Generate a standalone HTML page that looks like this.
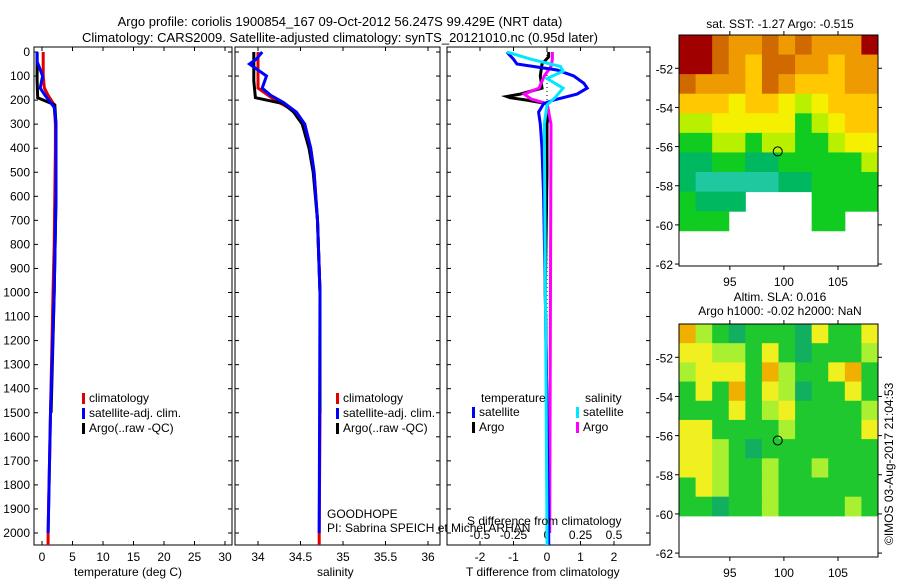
<!DOCTYPE html>
<html><head><meta charset="utf-8"><style>
body{margin:0;background:#fff;}
svg{display:block;font-family:"Liberation Sans",sans-serif;font-size:12px;}
</style></head><body>
<svg id="fig" width="900" height="580" viewBox="0 0 900 580">
<text x="340" y="26" text-anchor="middle" font-size="13">Argo profile: coriolis 1900854_167 09-Oct-2012 56.247S 99.429E (NRT data)</text>
<text x="340" y="42" text-anchor="middle" font-size="13">Climatology: CARS2009. Satellite-adjusted climatology: synTS_20121010.nc (0.95d later)</text>
<g id="g1"></g>
<g id="g2"></g>
<g id="g3"></g>
<g id="m1"></g>
<g id="m2"></g>
<text x="74" y="576">temperature (deg C)</text>
<text x="317" y="576">salinity</text>
<text x="466" y="576">T difference from climatology</text>
<text x="467" y="525">S difference from climatology</text>
<text x="327" y="518">GOODHOPE</text>
<text x="327" y="532">PI: Sabrina SPEICH et Michel ARHAN</text>
<text x="780" y="28" text-anchor="middle">sat. SST: -1.27 Argo: -0.515</text>
<text x="780" y="301" text-anchor="middle">Altim. SLA: 0.016</text>
<text x="780" y="315" text-anchor="middle">Argo h1000: -0.02 h2000: NaN</text>
<text transform="translate(893,545) rotate(-90)">©IMOS 03-Aug-2017 21:04:53</text>
</svg>
<script>
const NS="http://www.w3.org/2000/svg";
// depth axis
const depthTicks=[0,100,200,300,400,500,600,700,800,900,1000,1100,1200,1300,1400,1500,1600,1700,1800,1900,2000];
// temperature panel
const tTicks=[0,5,10,15,20,25,30];
const tClimD=[0,100,150,180,220,300,400,600,800,1000,1500,2000,2050];
const tClimV=[0.2,0.2,0.4,1.0,2.0,2.2,2.2,2.1,2.0,1.8,1.4,1.0,1.0];
const tSatD=[0,40,60,100,150,180,230,300,600,1000,1500,2000];
const tSatV=[-0.8,-0.8,-0.5,0.1,-0.3,0.5,2.0,2.3,2.3,2.0,1.4,1.0];
const tArgD=[0,60,120,190,220,300,600,1000,1500];
const tArgV=[-0.8,-0.8,-0.8,-0.7,2.1,2.3,2.3,2.0,1.5];
// salinity panel
const sTicks=[34,34.5,35,35.5,36];
const sClimD=[0,150,200,250,300,400,500,700,1000,1500,2000,2050];
const sClimV=[34.0,34.0,34.2,34.45,34.55,34.62,34.66,34.7,34.73,34.73,34.72,34.72];
const sSatD=[0,30,50,100,150,180,210,250,300,400,500,700,1000,2000];
const sSatV=[34.05,33.98,33.9,34.1,34.05,34.15,34.3,34.45,34.55,34.62,34.66,34.7,34.73,34.72];
const sArgD=[0,60,120,190,215,250,300,400,500,700,1000,1500];
const sArgV=[33.95,33.95,33.95,33.97,34.3,34.42,34.52,34.6,34.65,34.7,34.73,34.73];
// difference panel
const dtTicks=[-2,-1,0,1,2];
const dsTicks=[-0.5,-0.25,0,0.25,0.5];
const dsTickLabels=["-0.5","-0.25","0","0.25","0.5"];
const dTSatD=[0,30,50,75,100,130,150,175,200,215,250,300,400,600,1000,1500,2000,2050];
const dTSatV=[-1.2,-1.0,-0.9,0.3,0.8,1.1,1.2,0.9,0.2,-0.1,-0.25,-0.2,-0.15,-0.1,-0.05,0,0.05,0.05];
const dTArgD=[0,20,50,100,150,175,185,190,200,215,250,300,500,1000,1500];
const dTArgV=[0.05,0.05,-0.15,-0.2,-0.15,-0.8,-1.2,-1.1,-0.6,0,0.05,0,0,-0.05,0];
const dSSatD=[0,30,60,80,110,150,190,220,300,2000,2050];
const dSSatV=[-0.3,-0.12,0.1,0.12,0,0.12,0.06,0,-0.02,0,0];
const dSArgD=[0,30,60,100,150,175,195,215,300,2000];
const dSArgV=[0.04,0.04,0.03,-0.02,-0.06,-0.17,-0.12,0,0.03,0.02];
// maps
const sstGrid=[
[0,0,1,2,2,1,2,1,2,2,2,0],
[0,0,1,2,3,1,1,2,2,3,2,2],
[1,2,2,2,3,1,2,3,3,3,2,2],
[3,3,3,4,3,3,4,5,4,3,3,3],
[5,5,4,4,4,4,4,6,5,4,3,3],
[6,6,5,5,6,5,5,6,6,5,4,4],
[7,7,6,6,7,7,6,6,6,6,6,5],
[7,8,8,8,8,8,7,7,6,6,6,6],
[6,7,7,7,-1,-1,-1,-1,6,6,6,6],
[6,6,6,-1,-1,-1,-1,-1,6,6,-1,-1]];
const slaGrid=[
[0,2,3,4,3,3,3,4,1,3,3,1],
[1,1,2,2,3,1,3,4,3,3,3,2],
[2,1,1,1,3,0,2,3,3,1,0,3],
[3,1,3,0,3,1,2,4,3,3,1,3],
[3,3,3,1,3,2,1,3,3,3,3,2],
[1,1,3,3,3,3,2,3,3,3,3,1],
[1,1,2,3,4,3,3,3,3,3,3,3],
[1,1,2,3,3,2,3,3,2,3,3,3],
[3,1,2,3,3,2,3,3,3,3,3,3],
[3,3,4,3,3,2,3,3,3,3,2,3]];
const sstColors=["#a00000","#d06a00","#ee9a00","#ffc800","#f4f000","#b8f000","#10cc20","#00b860","#20c8a0"];
const slaColors=["#f0b000","#f0f020","#a8f030","#20c830","#10b060"];
const latTicks=[-52,-54,-56,-58,-60,-62];
const lonTicks=[95,100,105];
const floatLon=99.429, floatLat=-56.247;

function el(p,tag,a){const e=document.createElementNS(NS,tag);for(const k in a)e.setAttribute(k,a[k]);p.appendChild(e);return e;}
function txt(p,x,y,s,anchor){const t=el(p,"text",{x:x,y:y,"text-anchor":anchor||"start"});t.textContent=s;return t;}
const Y0=52, YK=0.2405;
const yD=d=>Y0+d*YK;
function linePath(g,xs,ds,fx,col,name,w){
  const pts=ds.map((d,i)=>fx(xs[i]).toFixed(1)+","+yD(d).toFixed(1)).join(" ");
  const e=el(g,"polyline",{points:pts,fill:"none",stroke:col,"stroke-width":w||3});
  
  
}
function frame(g,x0,x1,name){
  const r=el(g,"rect",{x:x0,y:47,width:x1-x0,height:498,fill:"none",stroke:"#000"});
  
  
  depthTicks.forEach(d=>{el(g,"line",{x1:x0,x2:x0+4,y1:yD(d),y2:yD(d),stroke:"#000"});el(g,"line",{x1:x1,x2:x1-4,y1:yD(d),y2:yD(d),stroke:"#000"});});
}
function legend(g,x,y,items){
  items.forEach((it,i)=>{
    el(g,"rect",{x:x,y:y+i*15-9,width:3,height:11,fill:it[0]});
    const t=txt(g,x+7,y+i*15,it[1]);
    
    
  });
}
// Panel 1
const g1=document.getElementById("g1");
const fT=v=>42+v*6.1;
frame(g1,34,232,"temperature-axes");
depthTicks.forEach(d=>{const t=txt(g1,30,yD(d)+4,String(d),"end");});
tTicks.forEach(v=>{el(g1,"line",{x1:fT(v),x2:fT(v),y1:545,y2:541,stroke:"#000"});el(g1,"line",{x1:fT(v),x2:fT(v),y1:47,y2:51,stroke:"#000"});const t=txt(g1,fT(v),561,String(v),"middle");});
linePath(g1,tClimV,tClimD,fT,"#e00000","temperature-climatology-line");
linePath(g1,tArgV,tArgD,fT,"#000","temperature-argo-line");
linePath(g1,tSatV,tSatD,fT,"#0000ff","temperature-satellite-line");
legend(g1,82,402,[["#e00000","climatology"],["#0000ff","satellite-adj. clim."],["#000","Argo(..raw -QC)"]]);
// Panel 2
const g2=document.getElementById("g2");
const fS=v=>258+(v-34)*85;
frame(g2,235,440,"salinity-axes");
sTicks.forEach(v=>{el(g2,"line",{x1:fS(v),x2:fS(v),y1:545,y2:541,stroke:"#000"});el(g2,"line",{x1:fS(v),x2:fS(v),y1:47,y2:51,stroke:"#000"});const t=txt(g2,fS(v),561,String(v),"middle");});
linePath(g2,sClimV,sClimD,fS,"#e00000","salinity-climatology-line");
linePath(g2,sArgV,sArgD,fS,"#000","salinity-argo-line");
linePath(g2,sSatV,sSatD,fS,"#0000ff","salinity-satellite-line");
legend(g2,336,402,[["#e00000","climatology"],["#0000ff","satellite-adj. clim."],["#000","Argo(..raw -QC)"]]);
// Panel 3
const g3=document.getElementById("g3");
const fD=v=>547+v*33.5;
const fDS=v=>547+v*134;
frame(g3,447,650,"difference-axes");
el(g3,"line",{x1:547,x2:547,y1:47,y2:545,stroke:"#000","stroke-dasharray":"1,3"});
dtTicks.forEach(v=>{el(g3,"line",{x1:fD(v),x2:fD(v),y1:545,y2:541,stroke:"#000"});el(g3,"line",{x1:fD(v),x2:fD(v),y1:47,y2:51,stroke:"#000"});const t=txt(g3,fD(v),561,String(v),"middle");});
dsTicks.forEach((v,i)=>{const t=txt(g3,fDS(v),539,dsTickLabels[i],"middle");});
linePath(g3,dTArgV,dTArgD,fD,"#000","t-diff-argo-line");
linePath(g3,dSArgV,dSArgD,fDS,"#ff00ff","s-diff-argo-line");
linePath(g3,dTSatV,dTSatD,fD,"#0000ff","t-diff-satellite-line");
linePath(g3,dSSatV,dSSatD,fDS,"#00e8ff","s-diff-satellite-line");
txt(g3,481,402,"temperature");txt(g3,585,402,"salinity");
legend(g3,472,416,[["#0000ff","satellite"],["#000","Argo"]]);
legend(g3,576,416,[["#00e8ff","satellite"],["#ff00ff","Argo"]]);
// Maps
function drawMap(gid,top,bot,grid,cols,latTop,latBot,whiteFrom,name){
  const g=document.getElementById(gid);
  const x0=679,x1=878,lonL=90.3,lonR=108.7;
  const fx=lon=>x0+(lon-lonL)*(x1-x0)/(lonR-lonL);
  const fy=lat=>top+(latTop-lat)*(bot-top)/(latTop-latBot);
  const nr=grid.length,nc=grid[0].length;
  const latEnd=whiteFrom;
  grid.forEach((row,r)=>row.forEach((v,c)=>{
    if(v<0)return;
    const la0=latTop-(latTop-latEnd)*r/nr, la1=latTop-(latTop-latEnd)*(r+1)/nr;
    const lo0=lonL+(lonR-lonL)*c/nc, lo1=lonL+(lonR-lonL)*(c+1)/nc;
    const e=el(g,"rect",{x:fx(lo0),y:fy(la0),width:fx(lo1)-fx(lo0)+0.5,height:fy(la1)-fy(la0)+0.5,fill:cols[v]});
    
    
  }));
  const fr=el(g,"rect",{x:x0,y:top,width:x1-x0,height:bot-top,fill:"none",stroke:"#000"});
  
  
  latTicks.forEach(l=>{const y=fy(l);el(g,"line",{x1:x0-4,x2:x0,y1:y,y2:y,stroke:"#000"});el(g,"line",{x1:x1,x2:x1+4,y1:y,y2:y,stroke:"#000"});const t=txt(g,x0-6,y+5,String(l),"end");});
  lonTicks.forEach(l=>{const x=fx(l);el(g,"line",{x1:x,x2:x,y1:bot,y2:bot+4,stroke:"#000"});el(g,"line",{x1:x,x2:x,y1:top-4,y2:top,stroke:"#000"});const t=txt(g,x,bot+20,String(l),"middle");});
  const c=el(g,"circle",{cx:fx(floatLon),cy:fy(floatLat),r:4.5,fill:"none",stroke:"#000"});
  
  
}
drawMap("m1",35,266,sstGrid,sstColors,-50.3,-62.1,-60.3,"sst-map");
drawMap("m2",324,557,slaGrid,slaColors,-50.3,-62.2,-60.1,"sla-map");
</script>
</body></html>
